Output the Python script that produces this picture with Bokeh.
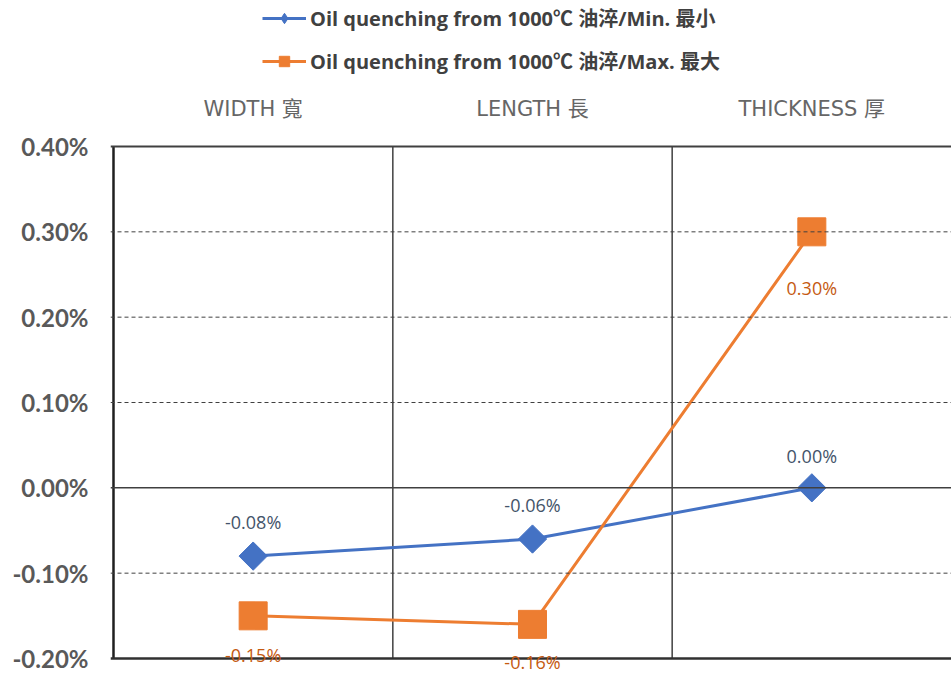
import math
from bokeh.plotting import figure
from bokeh.layouts import column
from bokeh.models import (Range1d, FixedTicker, PrintfTickFormatter, LinearAxis,
                          Span, Legend, LegendItem, ColumnDataSource, LabelSet)
from bokeh.core.properties import value
from bokeh.embed import file_html
from bokeh.resources import INLINE

# Dimensional change after oil quenching, in percent
categories = ["WIDTH 寬", "LENGTH 長", "THICKNESS 厚"]
min_change = [-0.08, -0.06, 0.00]
max_change = [-0.15, -0.16, 0.30]
y_ticks = [-0.2, -0.1, 0.0, 0.1, 0.2, 0.3, 0.4]
series_names = ["Oil quenching from 1000℃ 油淬/Min. 最小",
                "Oil quenching from 1000℃ 油淬/Max. 最大"]

BLUE = "#4472C4"
ORANGE = "#ED7D31"
GRID = "#404040"
TICK_TXT = "#595959"
FONT = "Lato, 'Noto Sans CJK TC'"
LABEL_FONT = "'Open Sans', 'Noto Sans CJK TC'"

# label offsets (pixels) for the two series
min_label_dy = [22, 22, 20]
max_label_dy = [-27, -26, -44]

LEGEND_H = 80
W, H = 951, 675
FRAME_LEFT = 110
y_lo, y_hi = y_ticks[0], y_ticks[-1]
px_per_unit = 512 / (y_hi - y_lo)

xs = [i + 0.5 for i in range(len(categories))]

# ---- main chart -------------------------------------------------------------
p = figure(width=W, height=H - LEGEND_H, output_backend="svg", toolbar_location=None,
           x_range=Range1d(-3 / 280, len(categories)),
           y_range=Range1d(y_lo - 17 / px_per_unit, y_hi + 3 / px_per_unit),
           min_border_left=FRAME_LEFT, min_border_right=0, min_border_top=63,
           min_border_bottom=0, x_axis_location=None, y_axis_location=None)
p.outline_line_color = None
p.xgrid.visible = False
p.ygrid.visible = False

yaxis = LinearAxis(ticker=FixedTicker(ticks=y_ticks),
                   formatter=PrintfTickFormatter(format="%.2f%%"))
yaxis.axis_line_color = None
yaxis.major_tick_line_color = None
yaxis.minor_tick_line_color = None
yaxis.major_label_text_font = FONT
yaxis.major_label_text_font_style = "bold"
yaxis.major_label_text_font_size = "24px"
yaxis.major_label_text_color = TICK_TXT
yaxis.major_label_standoff = 16
p.add_layout(yaxis, "left")

xaxis = LinearAxis(ticker=FixedTicker(ticks=xs),
                   major_label_overrides={x: c for x, c in zip(xs, categories)})
xaxis.axis_line_color = None
xaxis.major_tick_line_color = None
xaxis.minor_tick_line_color = None
xaxis.major_label_text_font = "'DejaVu Sans', 'Noto Sans CJK TC'"
xaxis.major_label_text_font_size = "21px"
xaxis.major_label_text_color = "#666666"
xaxis.major_label_standoff = 17
p.add_layout(xaxis, "above")

# horizontal rules: dashed grid, solid zero / top / bottom
for t in y_ticks[1:-1]:
    if t == 0.0:
        p.add_layout(Span(location=t, dimension="width", line_color=GRID, line_width=1.5))
    else:
        p.add_layout(Span(location=t, dimension="width", line_color=GRID,
                          line_width=1, line_dash="4 3"))
p.add_layout(Span(location=y_hi, dimension="width", line_color="#404040", line_width=2))
p.add_layout(Span(location=y_lo, dimension="width", line_color="#303030", line_width=2.5))

# vertical category separators and left border, spanning the value range only
sep_x = list(range(1, len(categories)))
p.segment(x0=sep_x, y0=[y_lo] * len(sep_x), x1=sep_x, y1=[y_hi] * len(sep_x),
          line_color=GRID, line_width=1.5)
p.segment(x0=[0], y0=[y_lo], x1=[0], y1=[y_hi], line_color="#202020", line_width=2.5)

src_min = ColumnDataSource(dict(x=xs, y=min_change, dy=min_label_dy,
                                lbl=[f"{v:.2f}%" for v in min_change]))
src_max = ColumnDataSource(dict(x=xs, y=max_change, dy=max_label_dy,
                                lbl=[f"{v:.2f}%" for v in max_change]))

p.line("x", "y", source=src_min, line_color=BLUE, line_width=3)
p.scatter("x", "y", source=src_min, marker="square", size=20,
          angle=math.pi / 4, fill_color=BLUE, line_color=BLUE)
p.line("x", "y", source=src_max, line_color=ORANGE, line_width=3)
p.scatter("x", "y", source=src_max, marker="square", size=28,
          fill_color=ORANGE, line_color=ORANGE)

p.add_layout(LabelSet(x="x", y="y", text="lbl", source=src_min, y_offset="dy",
                      text_align="center", text_baseline="bottom",
                      text_font=value(LABEL_FONT), text_font_size="18px",
                      text_color="#44546A"))
p.add_layout(LabelSet(x="x", y="y", text="lbl", source=src_max, y_offset="dy",
                      text_align="center", text_baseline="top",
                      text_font=value(LABEL_FONT), text_font_size="18px",
                      text_color="#C55A11"))

# ---- legend strip -------------------------------------------------------------
lg = figure(width=W, height=LEGEND_H, output_backend="svg", toolbar_location=None,
            x_range=Range1d(0, 1), y_range=Range1d(0, 1),
            min_border=0, x_axis_location=None, y_axis_location=None)
lg.outline_line_color = None
lg.xgrid.visible = False
lg.ygrid.visible = False
# key glyphs sit outside the visible range; only their legend swatches show
k1 = lg.line([-2, -1], [-2, -2], line_color=BLUE, line_width=3)
d1 = lg.scatter([-2], [-2], marker="diamond", size=14,
                fill_color=BLUE, line_color=BLUE)
k2 = lg.line([-2, -1], [-2, -2], line_color=ORANGE, line_width=3)
d2 = lg.scatter([-2], [-2], marker="square", size=12, fill_color=ORANGE,
                line_color=ORANGE)

legend = Legend(items=[LegendItem(label=series_names[0], renderers=[k1, d1]),
                       LegendItem(label=series_names[1], renderers=[k2, d2])],
                location=(262 - FRAME_LEFT, 5), orientation="vertical",
                background_fill_alpha=0, border_line_color=None,
                label_text_font=LABEL_FONT, label_text_font_style="bold",
                label_text_font_size="20px", label_text_color="#404040",
                glyph_width=44, glyph_height=26, label_height=26,
                label_standoff=4, spacing=14, padding=0, margin=0)
lg.add_layout(legend, "center")

open("out.html", "w").write(file_html(column(lg, p, spacing=0), INLINE))
